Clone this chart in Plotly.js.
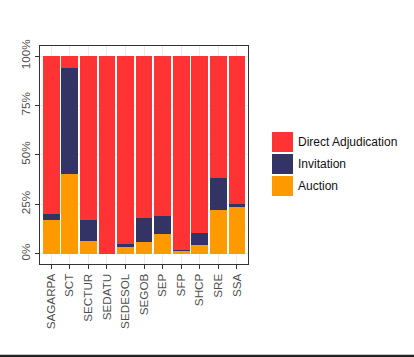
<!DOCTYPE html>
<html>
<head>
<meta charset="utf-8">
<script src="https://cdn.plot.ly/plotly-3.0.1.min.js"></script>
<style>html,body{margin:0;padding:0;background:#fff;}</style>
</head>
<body>
<div id="chart" style="width:414px;height:357px;"></div>
<script>
var categories = ["SAGARPA","SCT","SECTUR","SEDATU","SEDESOL","SEGOB","SEP","SFP","SHCP","SRE","SSA"];
var auction    = [17.0, 40.3, 6.4, 0.0, 3.4, 5.9, 10.1, 1.3, 4.6, 22.1, 23.8];
var invitation = [3.1, 53.6, 10.6, 0.0, 1.5, 12.1, 9.1, 0.7, 6.0, 16.3, 1.5];
var direct     = [79.9, 6.1, 83.0, 100.0, 95.1, 82.0, 80.8, 98.0, 89.4, 61.6, 74.7];
var seriesNames  = ["Direct Adjudication", "Invitation", "Auction"];
var seriesColors = ["#FF3333", "#333366", "#FF9900"];
var yTickVals  = [0, 25, 50, 75, 100];
var yTickText  = ["0%", "25%", "50%", "75%", "100%"];

var W = 414, H = 357;
var L = 40, R = 248, T = 46, B = 264;
function xp(px){ return (px - L) / (R - L); }
function yp(py){ return (B - py) / (B - T); }

var traces = [
  {type:"bar", x:categories, y:auction, name:seriesNames[2], marker:{color:seriesColors[2]}},
  {type:"bar", x:categories, y:invitation, name:seriesNames[1], marker:{color:seriesColors[1]}},
  {type:"bar", x:categories, y:direct, name:seriesNames[0], marker:{color:seriesColors[0]}}
];

var shapes = [];
var annotations = [];
for (var i = 0; i < seriesNames.length; i++) {
  var keyTop = 132 + i * 22;
  shapes.push({type:"rect", xref:"paper", yref:"paper",
    x0:xp(272), x1:xp(293), y0:yp(keyTop + 20), y1:yp(keyTop),
    fillcolor:seriesColors[i], line:{width:0}});
  annotations.push({xref:"paper", yref:"paper", x:xp(296), y:yp(keyTop + 10),
    xanchor:"left", yanchor:"middle", showarrow:false, text:seriesNames[i],
    font:{family:"Liberation Sans, Arial, sans-serif", size:12, color:"#111"}});
}
shapes.push({type:"rect", xref:"paper", yref:"paper",
  x0:xp(-2), x1:xp(W + 2), y0:yp(H + 2), y1:yp(354.7),
  fillcolor:"#222222", line:{width:0}});

var layout = {
  width: W, height: H,
  margin: {l:L, r:W - R, t:T, b:H - B, pad:0},
  paper_bgcolor: "#fff", plot_bgcolor: "#fff",
  barmode: "stack", bargap: 0.1,
  showlegend: false,
  font: {family:"Liberation Sans, Arial, sans-serif", size:11.7, color:"#4D4D4D"},
  xaxis: {
    range: [-0.6, 10.6], type:"category",
    showline: true, mirror: true, linecolor:"#333", linewidth:1,
    ticks:"outside", ticklen:4, tickcolor:"#333", tickwidth:1,
    tickangle:-90, showgrid:true, gridcolor:"#EBEBEB", gridwidth:1,
    tickfont:{size:11.7, color:"#4D4D4D"}, zeroline:false
  },
  yaxis: {
    range: [-5.2, 105.1],
    tickvals: yTickVals, ticktext: yTickText,
    showline: true, mirror: true, linecolor:"#333", linewidth:1,
    ticks:"outside", ticklen:4, tickcolor:"#333", tickwidth:1,
    tickangle:-90, showgrid:true, gridcolor:"#EBEBEB", gridwidth:1,
    minor:{dtick:12.5, tick0:12.5, showgrid:true, gridcolor:"#F5F5F5", gridwidth:0.5},
    tickfont:{size:11.7, color:"#4D4D4D"}, zeroline:false
  },
  shapes: shapes,
  annotations: annotations
};

Plotly.newPlot("chart", traces, layout, {staticPlot:true, displayModeBar:false});
</script>
</body>
</html>
